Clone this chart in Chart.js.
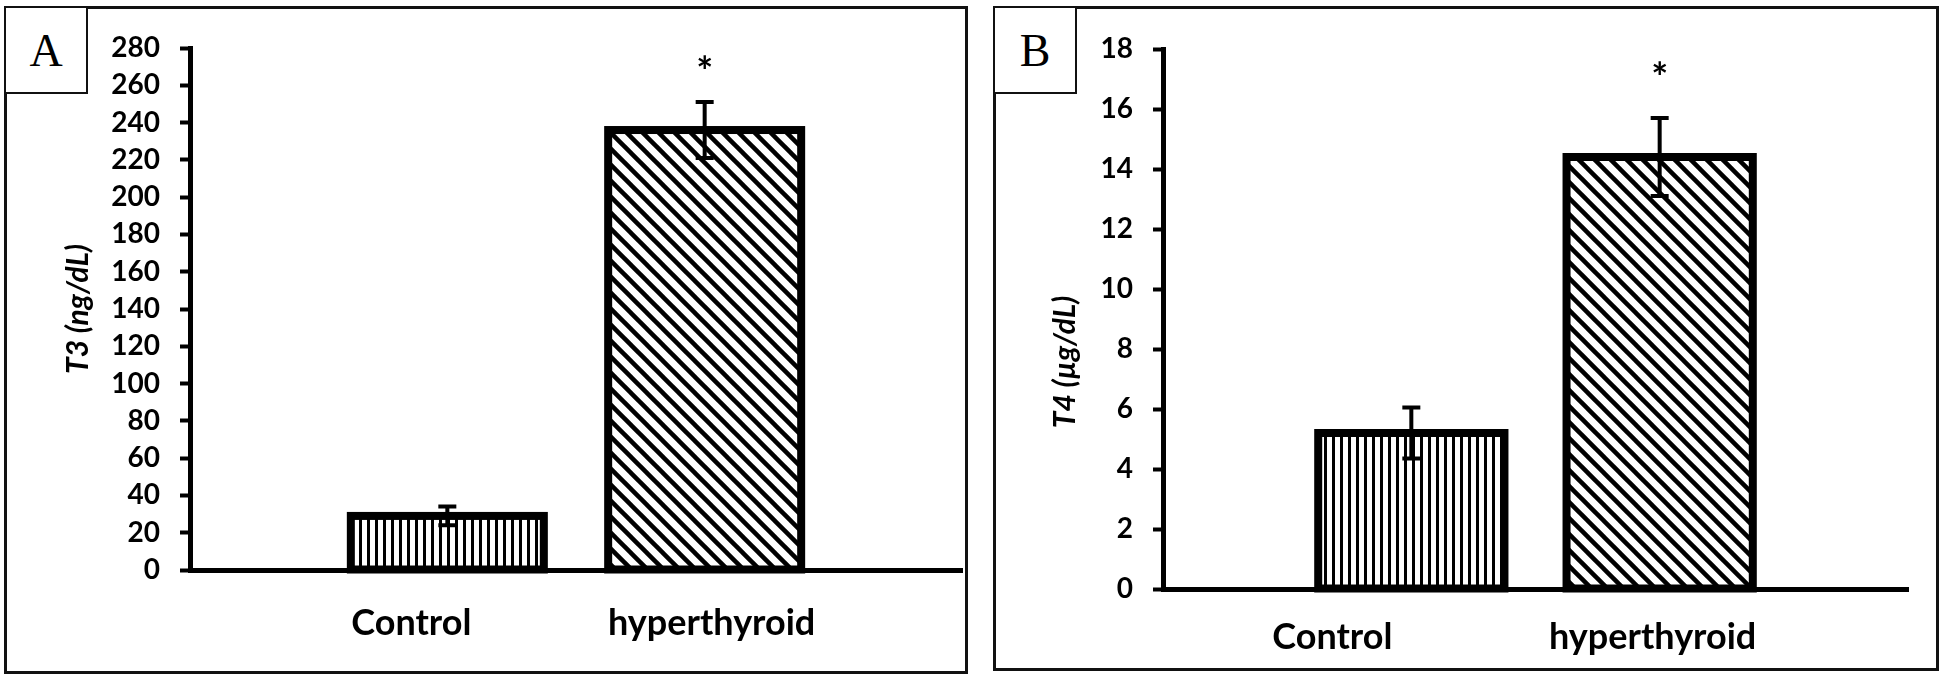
<!DOCTYPE html>
<html>
<head>
<meta charset="utf-8">
<script src="https://cdn.jsdelivr.net/npm/chart.js@4.4.1/dist/chart.umd.min.js"></script>
<style>
  body { margin: 0; background: #fff; width: 1946px; height: 680px; position: relative; overflow: hidden; }
  .panel { position: absolute; border: 3px solid #111; box-sizing: border-box; background: #fff; }
  .panel canvas { position: absolute; left: 0; top: 0; }
  .tag { position: absolute; left: -3px; top: -3px; border: 2px solid #111; background: #fff;
         box-sizing: border-box; display: flex; align-items: center; justify-content: center;
         font-family: "Liberation Serif", serif; font-size: 46px; color: #000; }
</style>
</head>
<body>
<div class="panel" style="left:4px; top:6px; width:964px; height:668px;">
  <canvas id="chartA" width="958" height="662"></canvas>
  <div class="tag" style="width:84px; height:88px;">A</div>
</div>
<div class="panel" style="left:993px; top:6px; width:946px; height:665px;">
  <canvas id="chartB" width="940" height="659"></canvas>
  <div class="tag" style="width:84px; height:88px;">B</div>
</div>
<script>
// values (mean, SE)
const categories = ['Control', 'hyperthyroid'];
const t3Mean = [29, 236];
const t3Err = [5, 15];
const t4Mean = [5.2, 14.4];
const t4Err = [0.85, 1.3];
const starred = [false, true];
const t3Max = 280, t3Step = 20;
const t4Max = 18, t4Step = 2;

// hatch fills
function stripePattern() {
  const c = document.createElement('canvas');
  c.width = 8; c.height = 8;
  const g = c.getContext('2d');
  g.fillStyle = '#fff'; g.fillRect(0, 0, 8, 8);
  g.fillStyle = '#000'; g.fillRect(0, 0, 3, 8);
  return g.createPattern(c, 'repeat');
}
function diagPattern() {
  const s = 16;
  const c = document.createElement('canvas');
  c.width = s; c.height = s;
  const g = c.getContext('2d');
  g.fillStyle = '#fff'; g.fillRect(0, 0, s, s);
  g.strokeStyle = '#000'; g.lineWidth = 4.5;
  [-s, 0, s].forEach(k => {
    g.beginPath(); g.moveTo(-2, k - 2); g.lineTo(s + 2, s + k + 2); g.stroke();
  });
  return g.createPattern(c, 'repeat');
}

const pad = arr => [null, ...arr, null];

// outline, error bars, star, category labels and y title
const decor = {
  id: 'decor',
  afterDatasetsDraw(chart, args, o) {
    const ctx = chart.ctx, y = chart.scales.y;
    const meta = chart.getDatasetMeta(0);
    ctx.save();
    ctx.strokeStyle = '#000';
    ctx.fillStyle = '#000';
    o.means.forEach((v, i) => {
      const bar = meta.data[i + 1];
      ctx.lineWidth = 8;
      ctx.lineJoin = 'miter';
      ctx.strokeRect(bar.x - bar.width / 2, bar.y, bar.width, bar.base - bar.y);
      const top = y.getPixelForValue(v + o.errors[i]);
      const bot = y.getPixelForValue(v - o.errors[i]);
      ctx.lineWidth = 4;
      ctx.beginPath();
      ctx.moveTo(bar.x, top); ctx.lineTo(bar.x, bot);
      ctx.moveTo(bar.x - 9, top); ctx.lineTo(bar.x + 9, top);
      ctx.moveTo(bar.x - 9, bot); ctx.lineTo(bar.x + 9, bot);
      ctx.stroke();
      if (starred[i]) {
        ctx.font = '700 40px Lato';
        ctx.textAlign = 'center';
        ctx.textBaseline = 'alphabetic';
        ctx.fillText('*', bar.x, top - o.starGap);
      }
    });
    ctx.restore();
  },
  afterDraw(chart, args, o) {
    const ctx = chart.ctx, x = chart.scales.x, area = chart.chartArea;
    ctx.save();
    ctx.fillStyle = '#000';
    ctx.font = '700 36px Lato';
    ctx.textAlign = 'center';
    ctx.textBaseline = 'middle';
    categories.forEach((c, i) => {
      ctx.fillText(c, x.getPixelForValue(i + 1) + o.labelShift[i], area.bottom + o.labelDrop);
    });
    ctx.translate(o.titleX, (area.top + area.bottom) / 2 + o.titleDy);
    ctx.rotate(-Math.PI / 2);
    ctx.font = 'italic 700 30px Lato';
    ctx.fillText(o.title, 0, 0);
    ctx.restore();
  }
};

function makeChart(id, p) {
  return new Chart(document.getElementById(id), {
    type: 'bar',
    data: {
      labels: pad(categories),
      datasets: [{
        data: pad(p.means),
        backgroundColor: [null, stripePattern(), diagPattern(), null],
        borderWidth: 0,
        categoryPercentage: 1,
        barPercentage: 0.75
      }]
    },
    options: {
      responsive: false,
      animation: false,
      layout: { padding: { top: p.padTop, right: p.padRight, bottom: 0, left: 0 } },
      plugins: {
        legend: { display: false },
        tooltip: { enabled: false },
        decor: p
      },
      scales: {
        x: {
          offset: false,
          grid: { display: false },
          border: { display: true, color: '#000', width: 5 },
          ticks: { display: false },
          afterFit: s => { s.height = p.axisH; }
        },
        y: {
          min: 0, max: p.max,
          grid: { drawOnChartArea: false, tickLength: 10, tickWidth: 4, tickColor: '#000' },
          border: { display: true, color: '#000', width: 5 },
          ticks: { stepSize: p.step, color: '#000', padding: 20, font: { family: 'Lato', weight: '700', size: 28 } },
          afterFit: s => { s.width = p.axisW; }
        }
      }
    },
    plugins: [decor]
  });
}

makeChart('chartA', {
  means: t3Mean, errors: t3Err, max: t3Max, step: t3Step,
  padTop: 39, padRight: 3, axisW: 183, axisH: 101,
  labelShift: [-36, 7], labelDrop: 53, starGap: 16,
  title: 'T3 (ng/dL)', titleX: 71, titleDy: 0
});
makeChart('chartB', {
  means: t4Mean, errors: t4Err, max: t4Max, step: t4Step,
  padTop: 40, padRight: 28, axisW: 167, axisH: 79,
  labelShift: [-79, -7], labelDrop: 48, starGap: 26,
  title: 'T4 (µg/dL)', titleX: 69, titleDy: 43
});
</script>
</body>
</html>
